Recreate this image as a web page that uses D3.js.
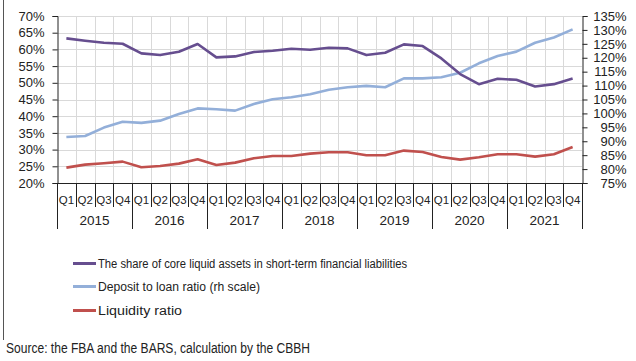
<!DOCTYPE html>
<html><head><meta charset="utf-8">
<script src="https://cdn.jsdelivr.net/npm/d3@7"></script>
<style>body{margin:0;background:#fff}svg{display:block}text{font-family:"Liberation Sans",Arial,sans-serif;fill:#222}</style>
</head><body><svg id="c" width="636" height="361"></svg>
<script>
const years = ["2015","2016","2017","2018","2019","2020","2021"];
const quarters = ["Q1","Q2","Q3","Q4"];
const coreLiquid = [63.3,62.6,62.0,61.7, 58.8,58.3,59.3,61.6, 57.6,57.9,59.2,59.6, 60.2,59.9,60.5,60.3, 58.3,59.0,61.5,61.0, 57.3,52.6,49.6,51.2, 50.9,48.9,49.6,51.3];
const depositLoan = [91.5,91.9,94.9,97.0, 96.6,97.4,99.8,101.8, 101.5,101.0,103.4,105.1, 105.8,106.9,108.5,109.4, 109.9,109.4,112.6,112.6, 113.0,114.6,118.0,120.6, 122.2,125.4,127.3,130.2];
const liquidity = [24.6,25.5,25.9,26.4, 24.7,25.1,25.8,27.1, 25.4,26.1,27.4,28.1, 28.1,28.8,29.2,29.2, 28.3,28.3,29.7,29.3, 27.8,27.0,27.7,28.6, 28.6,27.9,28.6,30.8];
const leftTicks = [20,25,30,35,40,45,50,55,60,65,70];
const rightTicks = [75,80,85,90,95,100,105,110,115,120,125,130,135];
const seriesNames = ["The share of core liquid assets in short-term financial liabilities","Deposit to loan ratio (rh scale)","Liquidity ratio"];
const colors = ["#664e8f","#93afd9","#c0504d"];
const source = "Source: the FBA and the BARS, calculation by the CBBH";

const periods = [];
years.forEach(y => quarters.forEach(q => periods.push(y + " " + q)));

const svg = d3.select("#c");
const L = 57, R = 582, T = 16, B = 183;
const x = d3.scaleBand().domain(periods).range([L, R]);
const yL = d3.scaleLinear().domain([20,70]).range([B, T]);
const yR = d3.scaleLinear().domain([75,135]).range([B, T]);

// frame left line
svg.append("line").attr("x1",3.5).attr("x2",3.5).attr("y1",0).attr("y2",340).attr("stroke","#555").attr("stroke-width",1);

// grid
const g = svg.append("g");
g.selectAll(".hg").data(leftTicks).join("line")
  .attr("x1",L).attr("x2",R).attr("y1",d=>Math.round(yL(d))+0.5).attr("y2",d=>Math.round(yL(d))+0.5)
  .attr("stroke","#d9d9d9").attr("stroke-width",1);
g.selectAll(".vg").data(periods.slice(1)).join("line")
  .attr("x1",d=>Math.round(x(d))+0.5).attr("x2",d=>Math.round(x(d))+0.5).attr("y1",T).attr("y2",B)
  .attr("stroke","#d9d9d9").attr("stroke-width",1);

// left axis
const la = svg.append("g").attr("transform",`translate(${L+0.5},0)`)
  .call(d3.axisLeft(yL).tickValues(leftTicks).tickSize(5).tickPadding(8).tickFormat(d=>d+"%"));
// right axis
const ra = svg.append("g").attr("transform",`translate(${R+0.5},0)`)
  .call(d3.axisRight(yR).tickValues(rightTicks).tickSize(5).tickPadding(0).tickFormat(d=>d+"%"));
[la,ra].forEach(a=>{a.select(".domain").attr("stroke","#222");a.selectAll(".tick line").attr("stroke","#222");
  a.selectAll("text").attr("font-size",13).attr("fill","#222").style("font-family","Liberation Sans, Arial, sans-serif");});
ra.selectAll("text").attr("text-anchor","end").attr("x",44);

// bottom axis
svg.append("line").attr("x1",L).attr("x2",R+4).attr("y1",B+0.5).attr("y2",B+0.5).attr("stroke","#222");
const bx = svg.append("g");
bx.selectAll(".qsep").data(periods.concat(["end"])).join("line")
  .attr("x1",(d,i)=>Math.round(L + i*x.bandwidth())+0.5).attr("x2",(d,i)=>Math.round(L + i*x.bandwidth())+0.5)
  .attr("y1",B).attr("y2",(d,i)=> i%4===0 ? 229 : 207).attr("stroke","#222").attr("stroke-width",1);
bx.selectAll(".ql").data(periods).join("text")
  .attr("x",d=>x(d)+x.bandwidth()/2).attr("y",204).attr("text-anchor","middle").attr("font-size",11.5)
  .text(d=>d.split(" ")[1]);
bx.selectAll(".yl").data(years).join("text")
  .attr("x",d=>x(d+" Q2")+x.bandwidth()).attr("y",225).attr("text-anchor","middle").attr("font-size",13.5)
  .text(d=>d);

// lines
const mk = (scale)=>d3.line().x((d,i)=>x(periods[i])+x.bandwidth()/2).y(d=>scale(d));
const series = [[coreLiquid,yL],[depositLoan,yR],[liquidity,yL]];
// draw order: red, blue, purple? purple on top near crossing
[1,2,0].forEach(k=>{
  svg.append("path").datum(series[k][0]).attr("d",mk(series[k][1]))
    .attr("fill","none").attr("stroke",colors[k]).attr("stroke-width",2.6).attr("stroke-linejoin","round");
});

// legend
const lg = svg.append("g");
const ly = [263.5,286.5,310.5];
seriesNames.forEach((n,i)=>{
  lg.append("line").attr("x1",73).attr("x2",96).attr("y1",ly[i]).attr("y2",ly[i]).attr("stroke",colors[i]).attr("stroke-width",3);
  const t = lg.append("text").attr("x",98).attr("y",ly[i]+4.5).attr("font-size",12.5).text(n);
});
const lw=[309,162,84];
lg.selectAll("text").each(function(d,i){d3.select(this).attr("textLength",lw[i]).attr("lengthAdjust","spacingAndGlyphs");});

svg.append("text").attr("x",6).attr("y",353).attr("font-size",14).attr("textLength",304).attr("lengthAdjust","spacingAndGlyphs").text(source);
</script></body></html>
